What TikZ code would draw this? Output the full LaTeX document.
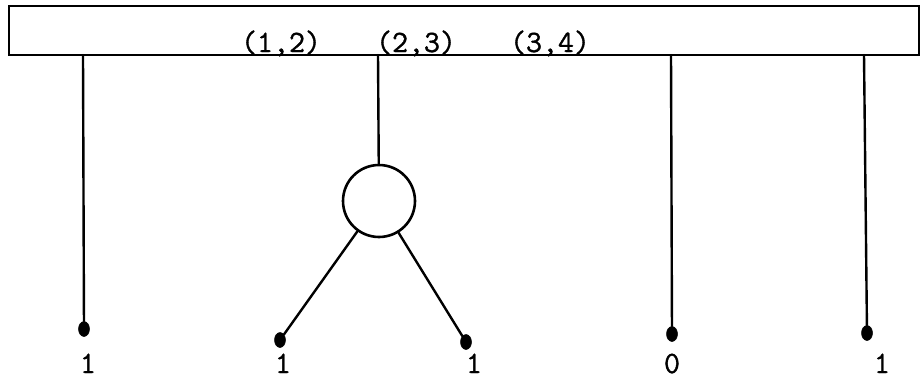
\documentclass[tikz,border=0pt]{standalone}
\usepackage{fontspec}
\newfontfamily\twfont[AutoFakeBold=1.2]{Latin Modern Mono}
\usetikzlibrary{shapes.geometric}
\begin{document}
\begin{tikzpicture}[x=1pt,y=-1pt,
  lbl/.style={font=\twfont\bfseries\fontsize{31}{34}\selectfont, inner sep=0pt, anchor=base},
  wire/.style={line width=2.4pt, line cap=round},
  dotend/.style={ellipse, fill=black, draw=black, line width=0.5pt, minimum width=11pt, minimum height=15pt, inner sep=0pt},
  gate/.style={circle, draw=black, line width=2.6pt, minimum size=72pt, inner sep=0pt}]
\useasboundingbox (0,0) rectangle (920,381);
% bar
\draw[line width=2.4pt] (9,6) rectangle (919,55);
\node[lbl] (l12) at (281,52) {(1,2)};
\node[lbl] (l23) at (416,52) {(2,3)};
\node[lbl] (l34) at (550,52) {(3,4)};
% tap points on bar
\coordinate (t1) at (83,55);
\coordinate (t2) at (378,55);
\coordinate (t4) at (671,55);
\coordinate (t5) at (864,55);
% gate
\node[gate] (c) at (379,201) {};
% dots
\node[dotend] (d1) at (84,329) {};
\node[dotend] (d2) at (280,340) {};
\node[dotend] (d3) at (466,342) {};
\node[dotend] (d4) at (672,334) {};
\node[dotend] (d5) at (867,333) {};
% wires
\draw[wire] (t1) -- (d1);
\draw[wire] (t2) -- (c);
\draw[wire] (c) -- (d2);
\draw[wire] (c) -- (d3);
\draw[wire] (t4) -- (d4);
\draw[wire] (t5) -- (d5);
% values
\node[lbl] (v1) at (88,373) {1};
\node[lbl] (v2) at (283,373) {1};
\node[lbl] (v3) at (474,373) {1};
\node[lbl] (v4) at (672,373) {0};
\node[lbl] (v5) at (882,373) {1};
\end{tikzpicture}
\end{document}
